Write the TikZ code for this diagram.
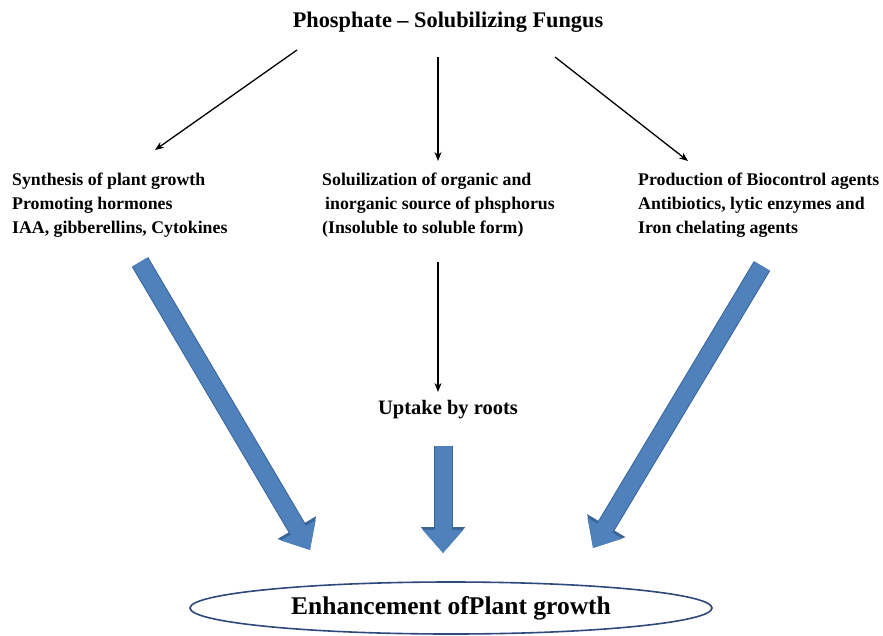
\documentclass[tikz,border=0pt]{standalone}
\usepackage{fontspec}
\setmainfont{Liberation Serif}
\usepackage{tikz}
\usetikzlibrary{positioning,arrows.meta,shapes.geometric}
\definecolor{bblue}{HTML}{4F81BD}
\definecolor{bedge}{HTML}{3A6596}
\definecolor{eline}{HTML}{2E4A7D}

\begin{document}
\begin{tikzpicture}[x=1pt, y=-1pt, font=\bfseries\fontsize{17.8}{24}\selectfont,
  txt/.style={align=left, anchor=west, inner sep=0pt},
  thinarr/.style={draw, line width=1.3pt, -{Stealth[length=9pt, width=7pt]}},
  bigarr/.style={draw=bblue, line width=17pt, -{Triangle[width=39pt, length=23pt]},
    preaction={draw=bedge, line width=19pt, -{Triangle[width=43pt, length=26pt]}}}]
\useasboundingbox (0,0) rectangle (883,635);
% top and the three effects
\node[inner sep=0pt, font=\bfseries\fontsize{22.3}{26}\selectfont] (fungus) at (448,22) {Phosphate -- Solubilizing Fungus};
\node[txt] (synth) at (12,205) {Synthesis of plant growth\\Promoting hormones\\IAA, gibberellins, Cytokines};
\node[txt] (solub) at (322,205) {Soluilization of organic and\\\hspace{3pt}inorganic source of phsphorus\\(Insoluble to soluble form)};
\node[txt] (bioc) at (638,205) {Production of Biocontrol agents\\Antibiotics, lytic enzymes and\\Iron chelating agents};
\node[inner sep=0pt, font=\bfseries\fontsize{20.5}{24}\selectfont] (uptake) at (448,410) {Uptake by roots};
\node[ellipse, draw=eline, line width=1.6pt, fill=white, minimum width=522pt, minimum height=52pt,
  font=\bfseries\fontsize{25.5}{30}\selectfont] (growth) at (451,608) {Enhancement ofPlant growth};
% thin arrows
\coordinate (f1) at (297,50); \coordinate (t1) at (155,150);
\coordinate (f2) at (438,57); \coordinate (t2) at (438,161);
\coordinate (f3) at (555,57); \coordinate (t3) at (688,161);
\coordinate (s1) at (438,262); \coordinate (u1) at (438,392);
\draw[thinarr] (f1) -- (t1);
\draw[thinarr] (f2) -- (t2);
\draw[thinarr] (f3) -- (t3);
\draw[thinarr] (s1) -- (u1);
% big arrows
\coordinate (b1) at (140,262); \coordinate (e1) at (310,550);
\coordinate (b2) at (443,446); \coordinate (e2) at (443,553);
\coordinate (b3) at (762,266); \coordinate (e3) at (593,548);
\draw[bigarr] (b1) -- (e1);
\draw[bigarr] (b2) -- (e2);
\draw[bigarr] (b3) -- (e3);
\end{tikzpicture}
\end{document}
